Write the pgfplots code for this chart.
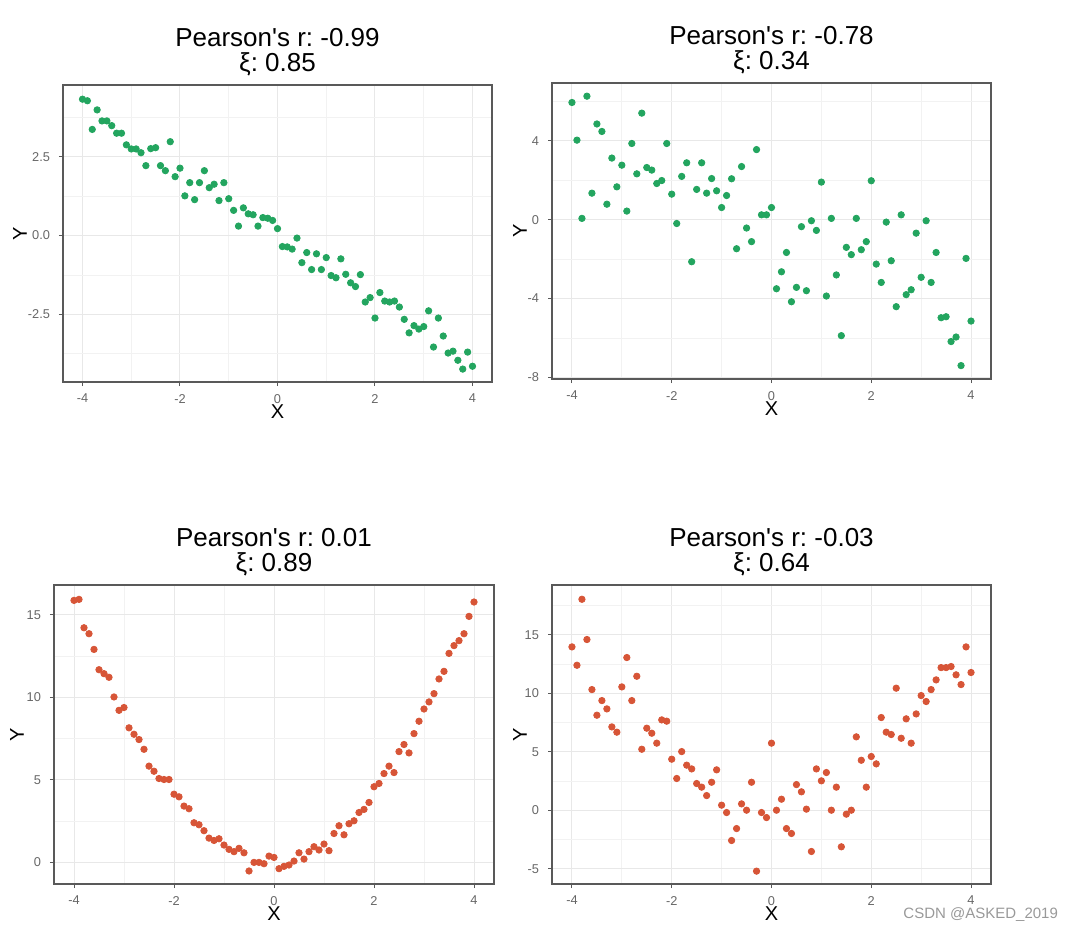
\documentclass[border=0pt]{standalone}
\usepackage{fontspec}
\setmainfont{Liberation Sans}
\usepackage{pgfplots}
\pgfplotsset{compat=1.18}
\usepackage{pgfplotstable}
\frenchspacing

\definecolor{ggreen}{RGB}{35,165,95}
\definecolor{gred}{RGB}{215,85,55}

% x runs -4 .. 4 in steps of 0.1 in every panel
\pgfplotstableread{
x y
-4.0 4.33
-3.9 4.28
-3.8 3.37
-3.7 3.99
-3.6 3.64
-3.5 3.64
-3.4 3.49
-3.3 3.25
-3.2 3.25
-3.1 2.88
-3.0 2.75
-2.9 2.75
-2.8 2.63
-2.7 2.22
-2.6 2.76
-2.5 2.79
-2.4 2.22
-2.3 2.06
-2.2 2.98
-2.1 1.87
-2.0 2.14
-1.9 1.26
-1.8 1.68
-1.7 1.14
-1.6 1.68
-1.5 2.06
-1.4 1.52
-1.3 1.63
-1.2 1.11
-1.1 1.68
-1.0 1.17
-0.9 0.80
-0.8 0.30
-0.7 0.88
-0.6 0.69
-0.5 0.66
-0.4 0.30
-0.3 0.57
-0.2 0.55
-0.1 0.48
0.0 0.22
0.1 -0.35
0.2 -0.36
0.3 -0.43
0.4 -0.08
0.5 -0.86
0.6 -0.54
0.7 -1.08
0.8 -0.58
0.9 -1.08
1.0 -0.70
1.1 -1.27
1.2 -1.34
1.3 -0.74
1.4 -1.23
1.5 -1.50
1.6 -1.62
1.7 -1.24
1.8 -2.11
1.9 -1.97
2.0 -2.62
2.1 -1.81
2.2 -2.08
2.3 -2.11
2.4 -2.08
2.5 -2.27
2.6 -2.66
2.7 -3.09
2.8 -2.86
2.9 -2.97
3.0 -2.89
3.1 -2.39
3.2 -3.54
3.3 -2.62
3.4 -3.19
3.5 -3.73
3.6 -3.67
3.7 -3.96
3.8 -4.24
3.9 -3.70
4.0 -4.15
}\lineardata

\pgfplotstableread{
x y
-4.0 5.95
-3.9 4.04
-3.8 0.07
-3.7 6.27
-3.6 1.35
-3.5 4.86
-3.4 4.48
-3.3 0.79
-3.2 3.13
-3.1 1.67
-3.0 2.77
-2.9 0.44
-2.8 3.87
-2.7 2.33
-2.6 5.41
-2.5 2.65
-2.4 2.52
-2.3 1.84
-2.2 1.99
-2.1 3.87
-2.0 1.30
-1.9 -0.19
-1.8 2.20
-1.7 2.89
-1.6 -2.13
-1.5 1.54
-1.4 2.89
-1.3 1.35
-1.2 2.09
-1.1 1.47
-1.0 0.62
-0.9 1.23
-0.8 2.08
-0.7 -1.47
-0.6 2.70
-0.5 -0.42
-0.4 -1.11
-0.3 3.56
-0.2 0.25
-0.1 0.25
0.0 0.62
0.1 -3.50
0.2 -2.64
0.3 -1.66
0.4 -4.16
0.5 -3.43
0.6 -0.35
0.7 -3.60
0.8 -0.05
0.9 -0.54
1.0 1.91
1.1 -3.87
1.2 0.07
1.3 -2.80
1.4 -5.88
1.5 -1.40
1.6 -1.77
1.7 0.07
1.8 -1.52
1.9 -1.11
2.0 1.98
2.1 -2.25
2.2 -3.18
2.3 -0.12
2.4 -2.08
2.5 -4.41
2.6 0.25
2.7 -3.80
2.8 -3.55
2.9 -0.68
3.0 -2.92
3.1 -0.05
3.2 -3.18
3.3 -1.66
3.4 -4.97
3.5 -4.92
3.6 -6.18
3.7 -5.95
3.8 -7.40
3.9 -1.96
4.0 -5.14
}\noisylinear

\pgfplotstableread{
x y
-4.0 15.87
-3.9 15.93
-3.8 14.21
-3.7 13.85
-3.6 12.90
-3.5 11.67
-3.4 11.43
-3.3 11.21
-3.2 10.02
-3.1 9.21
-3.0 9.38
-2.9 8.15
-2.8 7.76
-2.7 7.44
-2.6 6.85
-2.5 5.83
-2.4 5.52
-2.3 5.08
-2.2 5.02
-2.1 5.02
-2.0 4.13
-1.9 3.97
-1.8 3.41
-1.7 3.25
-1.6 2.40
-1.5 2.28
-1.4 1.92
-1.3 1.47
-1.2 1.33
-1.1 1.43
-1.0 1.05
-0.9 0.79
-0.8 0.65
-0.7 0.85
-0.6 0.58
-0.5 -0.52
-0.4 0.00
-0.3 0.00
-0.2 -0.08
-0.1 0.38
0.0 0.30
0.1 -0.38
0.2 -0.24
0.3 -0.16
0.4 0.08
0.5 0.58
0.6 0.20
0.7 0.65
0.8 0.95
0.9 0.75
1.0 1.11
1.1 0.71
1.2 1.75
1.3 2.22
1.4 1.67
1.5 2.34
1.6 2.52
1.7 3.02
1.8 3.21
1.9 3.63
2.0 4.58
2.1 4.78
2.2 5.38
2.3 5.83
2.4 5.44
2.5 6.71
2.6 7.14
2.7 6.63
2.8 7.80
2.9 8.55
3.0 9.29
3.1 9.72
3.2 10.22
3.3 11.11
3.4 11.57
3.5 12.66
3.6 13.13
3.7 13.43
3.8 13.85
3.9 14.90
4.0 15.77
}\quaddata

\pgfplotstableread{
x y
-4.0 13.96
-3.9 12.39
-3.8 18.03
-3.7 14.59
-3.6 10.31
-3.5 8.12
-3.4 9.37
-3.3 8.66
-3.2 7.12
-3.1 6.67
-3.0 10.54
-2.9 13.05
-2.8 9.37
-2.7 11.45
-2.6 5.21
-2.5 7.01
-2.4 6.58
-2.3 5.73
-2.2 7.72
-2.1 7.61
-2.0 4.36
-1.9 2.71
-1.8 5.01
-1.7 3.85
-1.6 3.53
-1.5 2.28
-1.4 1.97
-1.3 1.25
-1.2 2.39
-1.1 3.45
-1.0 0.43
-0.9 -0.20
-0.8 -2.59
-0.7 -1.57
-0.6 0.54
-0.5 0.00
-0.4 2.39
-0.3 -5.21
-0.2 -0.20
-0.1 -0.63
0.0 5.73
0.1 0.00
0.2 0.94
0.3 -1.57
0.4 -1.99
0.5 2.19
0.6 1.57
0.7 0.09
0.8 -3.53
0.9 3.53
1.0 2.51
1.1 3.22
1.2 0.00
1.3 1.97
1.4 -3.13
1.5 -0.34
1.6 0.00
1.7 6.27
1.8 4.27
1.9 1.97
2.0 4.59
2.1 3.96
2.2 7.92
2.3 6.67
2.4 6.47
2.5 10.43
2.6 6.15
2.7 7.81
2.8 5.73
2.9 8.23
3.0 9.80
3.1 9.29
3.2 10.31
3.3 11.14
3.4 12.19
3.5 12.19
3.6 12.28
3.7 11.57
3.8 10.74
3.9 13.96
4.0 11.77
}\noisyquad

\pgfplotsset{
  panel/.style={
    scale only axis, anchor=south west,
    xmin=-4.4, xmax=4.4,
    xtick={-4,-2,0,2,4}, xticklabels={-4,-2,0,2,4},
    minor xtick={-3,-1,1,3},
    grid=both,
    major grid style={draw=black!9, line width=0.5pt},
    minor grid style={draw=black!5, line width=0.35pt},
    axis line style={draw=black!65, line width=0.75pt},
    tick style={draw=black!65, line width=0.5pt},
    major tick length=2pt, minor tick length=0pt,
    tick align=outside, xtick pos=bottom, ytick pos=left,
    tick label style={font=\fontsize{6.4}{7}\selectfont, text=black!60},
    xticklabel style={yshift=-0.5pt},
    yticklabel style={xshift=-1pt},
    xlabel=X, ylabel=Y,
    label style={font=\fontsize{7.5}{9}\selectfont, text=black!70},
    every axis x label/.style={at={(axis description cs:0.5,0)}, anchor=center, yshift=-15pt},
    title style={font=\fontsize{13}{12.5}\selectfont, align=center, inner sep=0pt,
      at={(axis description cs:0.5,1)}, anchor=south, yshift=-1.5pt},
  },
  ylab/.style={every axis y label/.style={at={(axis description cs:0,0.5)}, xshift=#1, rotate=90, anchor=center}},
  dots/.style={only marks, mark=*, mark size=1.6pt, color=#1, mark options={draw=#1, fill=#1}},
}

\begin{document}
\begin{tikzpicture}
\useasboundingbox (0,0) rectangle (540pt,467pt);

\begin{axis}[panel, ylab=-21.5pt, at={(31.5pt,276pt)}, width=214.5pt, height=148.5pt,
  ymin=-4.65, ymax=4.78,
  ytick={-2.5,0,2.5}, yticklabels={-2.5,0.0,2.5}, minor ytick={-3.75,-1.25,1.25,3.75},
  title={Pearson\textquotesingle s r: -0.99\\ξ: 0.85}]
\addplot[dots=ggreen] table[x=x,y=y] {\lineardata};
\end{axis}

\begin{axis}[panel, ylab=-16pt, at={(276pt,277.5pt)}, width=219.5pt, height=148pt,
  ymin=-8.08, ymax=6.94,
  ytick={-8,-4,0,4}, yticklabels={-8,-4,0,4}, minor ytick={-6,-2,2,6},
  title={Pearson\textquotesingle s r: -0.78\\ξ: 0.34}]
\addplot[dots=ggreen] table[x=x,y=y] {\noisylinear};
\end{axis}

\begin{axis}[panel, ylab=-18.5pt, at={(27pt,25pt)}, width=220pt, height=149.5pt,
  ymin=-1.31, ymax=16.8,
  ytick={0,5,10,15}, yticklabels={0,5,10,15}, minor ytick={2.5,7.5,12.5},
  title={Pearson\textquotesingle s r: 0.01\\ξ: 0.89}]
\addplot[dots=gred] table[x=x,y=y] {\quaddata};
\end{axis}

\begin{axis}[panel, ylab=-16pt, at={(276pt,25pt)}, width=219.5pt, height=149.5pt,
  ymin=-6.31, ymax=19.25,
  ytick={-5,0,5,10,15}, yticklabels={-5,0,5,10,15}, minor ytick={-2.5,2.5,7.5,12.5,17.5},
  title={Pearson\textquotesingle s r: -0.03\\ξ: 0.64}]
\addplot[dots=gred] table[x=x,y=y] {\noisyquad};
\end{axis}

\node[anchor=east, font=\fontsize{7.5}{8}\selectfont, text=black!40] at (532.5pt,9.5pt) {CSDN @ASKED\_2019};
\end{tikzpicture}
\end{document}
